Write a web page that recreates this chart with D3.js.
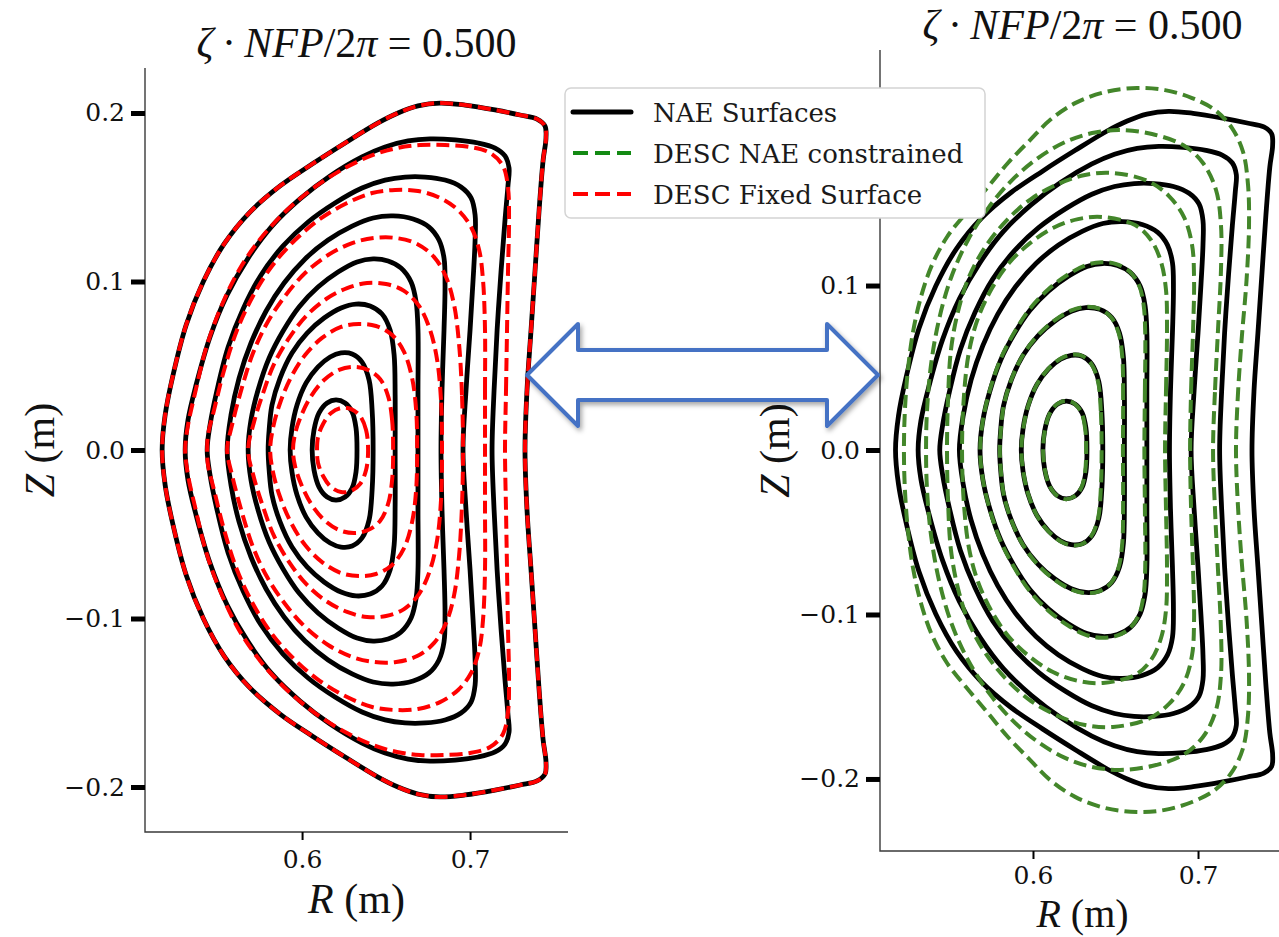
<!DOCTYPE html>
<html>
<head>
<meta charset="utf-8">
<script src="https://cdn.jsdelivr.net/npm/d3@7"></script>
<style>
	body { margin: 0; background: #fff; }
	svg { display: block; }
</style>
</head>
<body>
<svg width="1279" height="937"></svg>
<script>
// flux surfaces at zeta*NFP/2pi = 0.5
// each array is the upper half of a surface, [R, Z] in metres,
// going from the outboard midplane over the top to the inboard midplane
// (the lower half is the mirror image, stellarator symmetry)

// near axis expansion surfaces (black, both panels)
var nae1 = [[0.6327,0],[0.6321,0.0131],[0.6298,0.0226],[0.6256,0.0279],[0.6202,0.0297],[0.6149,0.0279],[0.6101,0.0220],[0.6071,0.0119],[0.6060,0]];
var nae2 = [[0.6423,0],[0.6417,0.0237],[0.6399,0.0415],[0.6357,0.0522],[0.6298,0.0570],[0.6232,0.0576],[0.6167,0.0552],[0.6095,0.0493],[0.6024,0.0398],[0.5970,0.0267],[0.5940,0.0131],[0.5929,0]];
var nae3 = [[0.6554,0],[0.6554,0.0326],[0.6548,0.0564],[0.6524,0.0712],[0.6476,0.0807],[0.6405,0.0855],[0.6321,0.0866],[0.6232,0.0843],[0.6131,0.0783],[0.6030,0.0694],[0.5940,0.0576],[0.5869,0.0427],[0.5821,0.0267],[0.5804,0.0119],[0.5798,0]];
var nae4 = [[0.6690,0],[0.6690,0.0356],[0.6690,0.0712],[0.6679,0.0878],[0.6649,0.0997],[0.6589,0.1080],[0.6512,0.1122],[0.6423,0.1134],[0.6327,0.1116],[0.6214,0.1056],[0.6095,0.0967],[0.5982,0.0849],[0.5887,0.0706],[0.5804,0.0546],[0.5738,0.0356],[0.5696,0.0178],[0.5679,0]];
var nae5 = [[0.6827,0],[0.6833,0.0356],[0.6845,0.0712],[0.6851,0.0979],[0.6845,0.1139],[0.6815,0.1246],[0.6756,0.1323],[0.6661,0.1371],[0.6542,0.1389],[0.6423,0.1377],[0.6298,0.1329],[0.6155,0.1246],[0.6018,0.1134],[0.5893,0.0991],[0.5786,0.0825],[0.5696,0.0635],[0.5625,0.0427],[0.5577,0.0208],[0.5554,0]];
var nae6 = [[0.6958,0],[0.6976,0.0356],[0.7000,0.0712],[0.7018,0.1009],[0.7030,0.1246],[0.7030,0.1395],[0.7006,0.1496],[0.6946,0.1561],[0.6851,0.1602],[0.6732,0.1620],[0.6613,0.1620],[0.6494,0.1602],[0.6357,0.1555],[0.6196,0.1466],[0.6036,0.1353],[0.5887,0.1211],[0.5756,0.1039],[0.5649,0.0837],[0.5560,0.0611],[0.5494,0.0356],[0.5452,0.0148],[0.5435,0]];
var nae7 = [[0.7131,0],[0.7143,0.0356],[0.7161,0.0712],[0.7185,0.1068],[0.7208,0.1365],[0.7226,0.1573],[0.7232,0.1674],[0.7208,0.1745],[0.7149,0.1792],[0.7048,0.1822],[0.6911,0.1840],[0.6762,0.1846],[0.6631,0.1834],[0.6494,0.1798],[0.6357,0.1739],[0.6167,0.1626],[0.5988,0.1490],[0.5821,0.1329],[0.5679,0.1139],[0.5554,0.0920],[0.5452,0.0671],[0.5369,0.0386],[0.5321,0.0178],[0.5304,0]];
var nae8 = [[0.7327,0],[0.7339,0.0356],[0.7363,0.0712],[0.7387,0.1068],[0.7411,0.1424],[0.7435,0.1721],[0.7452,0.1852],[0.7446,0.1923],[0.7399,0.1964],[0.7298,0.1988],[0.7149,0.2018],[0.6970,0.2047],[0.6821,0.2059],[0.6690,0.2042],[0.6571,0.2000],[0.6452,0.1941],[0.6256,0.1822],[0.6060,0.1697],[0.5869,0.1567],[0.5690,0.1412],[0.5536,0.1223],[0.5411,0.0997],[0.5310,0.0742],[0.5232,0.0445],[0.5185,0.0208],[0.5167,0]];

// DESC fixed boundary solve (red, left panel), outermost is the boundary itself
var fix1 = [[0.6393,0],[0.6381,0.0119],[0.6345,0.0202],[0.6292,0.0243],[0.6232,0.0249],[0.6173,0.0220],[0.6125,0.0154],[0.6095,0.0077],[0.6089,0]];
var fix2 = [[0.6542,0],[0.6536,0.0178],[0.6512,0.0320],[0.6464,0.0421],[0.6393,0.0475],[0.6310,0.0493],[0.6220,0.0475],[0.6131,0.0415],[0.6054,0.0320],[0.5994,0.0202],[0.5958,0.0095],[0.5946,0]];
var fix3 = [[0.6685,0],[0.6679,0.0237],[0.6655,0.0427],[0.6607,0.0582],[0.6536,0.0682],[0.6440,0.0736],[0.6339,0.0748],[0.6232,0.0730],[0.6119,0.0665],[0.6018,0.0564],[0.5935,0.0433],[0.5869,0.0279],[0.5827,0.0131],[0.5810,0]];
var fix4 = [[0.6833,0],[0.6827,0.0297],[0.6804,0.0534],[0.6762,0.0712],[0.6696,0.0855],[0.6607,0.0944],[0.6500,0.0985],[0.6387,0.0991],[0.6268,0.0961],[0.6143,0.0896],[0.6024,0.0795],[0.5923,0.0665],[0.5833,0.0510],[0.5768,0.0338],[0.5714,0.0166],[0.5679,0]];
var fix5 = [[0.6958,0],[0.6952,0.0326],[0.6935,0.0623],[0.6905,0.0861],[0.6857,0.1027],[0.6786,0.1145],[0.6685,0.1223],[0.6560,0.1258],[0.6429,0.1258],[0.6298,0.1228],[0.6155,0.1157],[0.6018,0.1050],[0.5899,0.0914],[0.5792,0.0754],[0.5708,0.0576],[0.5643,0.0374],[0.5583,0.0148],[0.5554,0]];
var fix6 = [[0.7089,0],[0.7089,0.0356],[0.7089,0.0712],[0.7077,0.1009],[0.7054,0.1187],[0.7006,0.1323],[0.6929,0.1424],[0.6821,0.1496],[0.6690,0.1537],[0.6554,0.1543],[0.6417,0.1525],[0.6268,0.1466],[0.6107,0.1371],[0.5958,0.1246],[0.5821,0.1092],[0.5708,0.0914],[0.5613,0.0712],[0.5536,0.0475],[0.5476,0.0237],[0.5440,0.0089],[0.5435,0]];
var fix7 = [[0.7208,0],[0.7214,0.0356],[0.7220,0.0712],[0.7226,0.1068],[0.7232,0.1365],[0.7226,0.1555],[0.7196,0.1685],[0.7119,0.1763],[0.7000,0.1798],[0.6851,0.1810],[0.6702,0.1810],[0.6565,0.1792],[0.6423,0.1751],[0.6256,0.1674],[0.6077,0.1561],[0.5911,0.1424],[0.5756,0.1258],[0.5625,0.1068],[0.5518,0.0849],[0.5429,0.0605],[0.5363,0.0338],[0.5321,0.0148],[0.5304,0]];

// DESC with NAE constraint (green, right panel)
var desc1 = [[0.6322,0],[0.6316,0.0131],[0.6294,0.0227],[0.6253,0.0281],[0.6200,0.0299],[0.6148,0.0280],[0.6101,0.0221],[0.6072,0.0119],[0.6061,0]];
var desc2 = [[0.6416,0],[0.6411,0.0237],[0.6394,0.0416],[0.6353,0.0524],[0.6295,0.0573],[0.6230,0.0579],[0.6166,0.0555],[0.6094,0.0495],[0.6024,0.0399],[0.5971,0.0268],[0.5941,0.0131],[0.5930,0]];
var desc3 = [[0.6545,0],[0.6546,0.0326],[0.6541,0.0566],[0.6518,0.0715],[0.6471,0.0810],[0.6401,0.0859],[0.6318,0.0870],[0.6229,0.0847],[0.6129,0.0787],[0.6029,0.0697],[0.5940,0.0578],[0.5869,0.0428],[0.5822,0.0267],[0.5805,0.0119],[0.5799,0]];
var desc4 = [[0.6675,0],[0.6678,0.0356],[0.6680,0.0712],[0.6670,0.0885],[0.6641,0.1005],[0.6582,0.1088],[0.6505,0.1130],[0.6416,0.1142],[0.6320,0.1124],[0.6208,0.1064],[0.6090,0.0974],[0.5978,0.0855],[0.5884,0.0710],[0.5802,0.0549],[0.5737,0.0357],[0.5696,0.0178],[0.5680,0]];
var desc5 = [[0.6800,0],[0.6806,0.0365],[0.6812,0.0729],[0.6806,0.0973],[0.6776,0.1143],[0.6715,0.1277],[0.6618,0.1368],[0.6424,0.1416],[0.6273,0.1404],[0.6121,0.1350],[0.5982,0.1258],[0.5855,0.1137],[0.5752,0.0985],[0.5667,0.0802],[0.5612,0.0596],[0.5582,0.0334],[0.5570,0]];
var desc6 = [[0.6952,0],[0.6958,0.0365],[0.6970,0.0729],[0.6976,0.1033],[0.6964,0.1246],[0.6915,0.1416],[0.6824,0.1544],[0.6697,0.1635],[0.6485,0.1684],[0.6315,0.1672],[0.6152,0.1617],[0.5988,0.1526],[0.5842,0.1398],[0.5715,0.1240],[0.5612,0.1052],[0.5545,0.0839],[0.5503,0.0608],[0.5485,0.0304],[0.5479,0]];
var desc7 = [[0.7091,0],[0.7103,0.0365],[0.7121,0.0729],[0.7139,0.1094],[0.7139,0.1368],[0.7109,0.1581],[0.7030,0.1745],[0.6909,0.1854],[0.6721,0.1921],[0.6527,0.1945],[0.6358,0.1927],[0.6194,0.1872],[0.6030,0.1775],[0.5873,0.1641],[0.5733,0.1477],[0.5606,0.1277],[0.5503,0.1046],[0.5430,0.0790],[0.5382,0.0517],[0.5358,0.0243],[0.5352,0]];
var desc8 = [[0.7230,0],[0.7240,0.0304],[0.7264,0.0669],[0.7294,0.1033],[0.7309,0.1368],[0.7303,0.1611],[0.7273,0.1812],[0.7206,0.1957],[0.7103,0.2067],[0.6964,0.2140],[0.6800,0.2188],[0.6630,0.2201],[0.6436,0.2176],[0.6255,0.2109],[0.6103,0.2006],[0.5982,0.1884],[0.5848,0.1745],[0.5727,0.1599],[0.5594,0.1441],[0.5479,0.1295],[0.5388,0.1125],[0.5321,0.0930],[0.5273,0.0717],[0.5242,0.0486],[0.5224,0.0243],[0.5218,0]];

var naeSurfaces = [nae1, nae2, nae3, nae4, nae5, nae6, nae7, nae8];
var fixSurfaces = [fix1, fix2, fix3, fix4, fix5, fix6, fix7, nae8];
var descSurfaces = [desc1, desc2, desc3, desc4, desc5, desc6, desc7, desc8];

var xTicks = [0.6, 0.7];
var yTicks = [-0.2, -0.1, 0.0, 0.1, 0.2];
var zetaValue = 0.5;
var legendLabels = ['NAE Surfaces', 'DESC NAE constrained', 'DESC Fixed Surface'];

var tickFont = 'DejaVu Serif, serif';
var mathFont = 'Liberation Serif, Times New Roman, serif';

var svg = d3.select('svg');

svg.append('defs').append('filter')
	.attr('id', 'shadow')
	.attr('x', '-10%').attr('y', '-30%')
	.attr('width', '125%').attr('height', '170%')
	.append('feDropShadow')
	.attr('dx', 2).attr('dy', 3)
	.attr('stdDeviation', 2.5)
	.attr('flood-color', '#000')
	.attr('flood-opacity', 0.35);

var panels = [
	{ id: 'L', box: { x0: 145, y0: 68, x1: 568, y1: 832 }, xlim: [0.5065, 0.7583], ylim: [-0.2267, 0.2267],
		dashed: fixSurfaces, dashColor: '#ff0000', titleY: 57, xlabY: 913, labSize: 42, ylabX: 54, xtickY: 868, hideTicks: [] },
	{ id: 'R', box: { x0: 880, y0: 50, x1: 1285, y1: 851 }, xlim: [0.5073, 0.7527], ylim: [-0.2438, 0.2432],
		dashed: descSurfaces, dashColor: '#43862a', titleY: 39, xlabY: 927, labSize: 40, ylabX: 789, xtickY: 884, hideTicks: [0.2] }
];

// closed outline from the upper half
function fullSurface(upper) {
	var lower = upper.slice(1, -1).reverse().map(function(p) { return [p[0], -p[1]]; });
	return upper.concat(lower);
}

panels.forEach(function(p) {
	var b = p.box;
	var x = d3.scaleLinear().domain(p.xlim).range([b.x0, b.x1]);
	var y = d3.scaleLinear().domain(p.ylim).range([b.y1, b.y0]);

	var g = svg.append('g');

	g.append('clipPath').attr('id', 'clip' + p.id)
		.append('rect')
		.attr('x', b.x0).attr('y', b.y0)
		.attr('width', b.x1 - b.x0).attr('height', b.y1 - b.y0);

	var line = d3.line()
		.x(function(d) { return x(d[0]); })
		.y(function(d) { return y(d[1]); })
		.curve(d3.curveCatmullRomClosed.alpha(0.5));

	var plot = g.append('g').attr('clip-path', 'url(#clip' + p.id + ')');

	plot.selectAll('path.nae')
		.data(naeSurfaces)
		.enter().append('path')
		.attr('class', 'nae')
		.attr('d', function(d) { return line(fullSurface(d)); })
		.attr('fill', 'none')
		.attr('stroke', '#000')
		.attr('stroke-width', 4.8)
		.attr('stroke-linejoin', 'round');

	plot.selectAll('path.desc')
		.data(p.dashed)
		.enter().append('path')
		.attr('class', 'desc')
		.attr('d', function(d) { return line(fullSurface(d)); })
		.attr('fill', 'none')
		.attr('stroke', p.dashColor)
		.attr('stroke-width', 4)
		.attr('stroke-dasharray', '13,6');

	// spines (left and bottom only)
	g.append('path')
		.attr('d', 'M' + b.x0 + ',' + b.y0 + 'V' + b.y1 + 'H' + b.x1)
		.attr('fill', 'none')
		.attr('stroke', '#3a3a3a')
		.attr('stroke-width', 1.4);

	var fmt = d3.format('.1f');
	var yAxis = d3.axisLeft(y)
		.tickValues(yTicks)
		.tickFormat(function(d) { return p.hideTicks.indexOf(d) >= 0 ? '' : fmt(d); })
		.tickSize(14)
		.tickPadding(6);

	var ya = g.append('g')
		.attr('transform', 'translate(' + b.x0 + ',0)')
		.call(yAxis);
	ya.select('.domain').remove();
	ya.selectAll('.tick line').attr('stroke', '#000').attr('stroke-width', 5);
	ya.selectAll('.tick text')
		.attr('font-family', tickFont)
		.attr('font-size', 25)
		.attr('fill', '#111');

	var xAxis = d3.axisBottom(x)
		.tickValues(xTicks)
		.tickFormat(fmt)
		.tickSize(8)
		.tickPadding(8);

	var xa = g.append('g')
		.attr('transform', 'translate(0,' + b.y1 + ')')
		.call(xAxis);
	xa.select('.domain').remove();
	xa.selectAll('.tick line').attr('stroke', '#000').attr('stroke-width', 2);
	xa.selectAll('.tick text')
		.attr('font-family', tickFont)
		.attr('font-size', 25)
		.attr('fill', '#111')
		.attr('y', null).attr('dy', null)
		.attr('transform', 'translate(0,' + (p.xtickY - b.y1) + ')');

	var cx = (b.x0 + b.x1) / 2;

	// title
	var t = g.append('text')
		.attr('x', cx).attr('y', p.titleY)
		.attr('text-anchor', 'middle')
		.attr('font-family', mathFont)
		.attr('font-size', 42)
		.attr('fill', '#111');
	t.append('tspan').attr('font-style', 'italic').text('\u03b6');
	t.append('tspan').text('\u2009\u00b7\u2009');
	t.append('tspan').attr('font-style', 'italic').text('NFP');
	t.append('tspan').text('/2');
	t.append('tspan').attr('font-style', 'italic').text('\u03c0');
	t.append('tspan').text(' = ' + d3.format('.3f')(zetaValue));

	// axis labels
	var xl = g.append('text')
		.attr('x', cx).attr('y', p.xlabY)
		.attr('text-anchor', 'middle')
		.attr('font-family', mathFont)
		.attr('font-size', p.labSize)
		.attr('fill', '#111');
	xl.append('tspan').attr('font-style', 'italic').text('R');
	xl.append('tspan').text(' (m)');

	var yl = g.append('text')
		.attr('transform', 'translate(' + p.ylabX + ',' + ((b.y0 + b.y1) / 2) + ') rotate(-90)')
		.attr('text-anchor', 'middle')
		.attr('font-family', mathFont)
		.attr('font-size', 42)
		.attr('fill', '#111');
	yl.append('tspan').attr('font-style', 'italic').text('Z');
	yl.append('tspan').text(' (m)');
});

// legend
var legend = svg.append('g').attr('transform', 'translate(565,88)');
legend.append('rect')
	.attr('width', 420).attr('height', 130)
	.attr('rx', 6)
	.attr('fill', '#fff')
	.attr('stroke', '#d4d4d4')
	.attr('stroke-width', 1.5);

var legendStyles = [
	{ color: '#000', dash: null, width: 5 },
	{ color: '#138a13', dash: '15,7', width: 4 },
	{ color: '#ff0000', dash: '15,7', width: 4 }
];

var rows = legend.selectAll('g.row')
	.data(legendLabels)
	.enter().append('g')
	.attr('class', 'row')
	.attr('transform', function(d, i) { return 'translate(0,' + (24 + i * 41) + ')'; });

rows.append('line')
	.attr('x1', 8).attr('x2', 66)
	.attr('stroke', function(d, i) { return legendStyles[i].color; })
	.attr('stroke-width', function(d, i) { return legendStyles[i].width; })
	.attr('stroke-dasharray', function(d, i) { return legendStyles[i].dash; })
	.attr('stroke-linecap', function(d, i) { return i === 0 ? 'round' : 'butt'; });

rows.append('text')
	.attr('x', 88).attr('y', 10)
	.attr('font-family', tickFont)
	.attr('font-size', 26)
	.attr('fill', '#1a1a1a')
	.text(function(d) { return d; });

// double headed arrow between the panels
var ar = { x0: 527, x1: 878, cy: 375, head: 51, half: 51, shaft: 25 };
var arrowPts = [
	[ar.x0, ar.cy],
	[ar.x0 + ar.head, ar.cy - ar.half],
	[ar.x0 + ar.head, ar.cy - ar.shaft],
	[ar.x1 - ar.head, ar.cy - ar.shaft],
	[ar.x1 - ar.head, ar.cy - ar.half],
	[ar.x1, ar.cy],
	[ar.x1 - ar.head, ar.cy + ar.half],
	[ar.x1 - ar.head, ar.cy + ar.shaft],
	[ar.x0 + ar.head, ar.cy + ar.shaft],
	[ar.x0 + ar.head, ar.cy + ar.half]
];
svg.append('polygon')
	.attr('points', arrowPts.map(function(q) { return q.join(','); }).join(' '))
	.attr('fill', '#fff')
	.attr('stroke', '#4472c4')
	.attr('stroke-width', 4)
	.attr('stroke-linejoin', 'round')
	.attr('filter', 'url(#shadow)');
</script>
</body>
</html>
